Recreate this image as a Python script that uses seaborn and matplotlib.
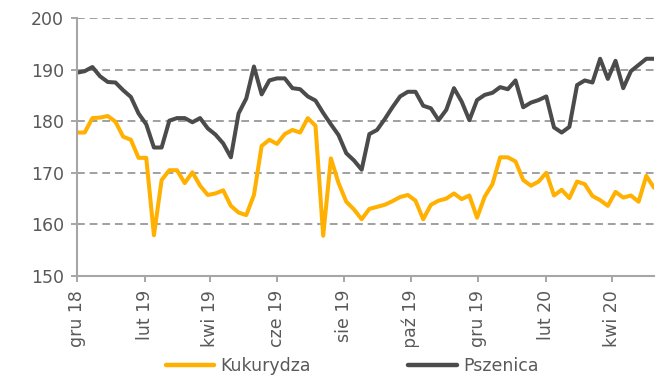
import numpy as np
import pandas as pd
import matplotlib
matplotlib.use("Agg")
import matplotlib.pyplot as plt
import matplotlib.dates as mdates
from matplotlib.ticker import FuncFormatter, MultipleLocator
from matplotlib.transforms import Bbox, TransformedBbox
import seaborn as sns

# Weekly prices, starting in early December 2018
start_date = "2018-12-01"

kukurydza = [
    177.8, 177.8, 180.6, 180.7, 181.0, 179.9, 177.0, 176.4, 172.9, 172.9,
    157.9, 168.6, 170.5, 170.5, 168.0, 170.1, 167.5, 165.7, 166.0, 166.6,
    163.6, 162.3, 161.8, 165.7, 175.2, 176.4, 175.6, 177.5, 178.3, 177.8,
    180.6, 179.1, 157.8, 172.8, 168.0, 164.4, 162.9, 161.0, 163.0, 163.4,
    163.8, 164.5, 165.3, 165.7, 164.6, 161.0, 163.8, 164.6, 165.0, 166.0,
    164.9, 165.6, 161.3, 165.4, 167.8, 173.0, 173.0, 172.2, 168.6, 167.5,
    168.3, 170.0, 165.6, 166.7, 165.1, 168.3, 167.8, 165.5, 164.7, 163.6,
    166.3, 165.2, 165.6, 164.4, 169.4, 167.1,
]

pszenica = [
    189.4, 189.7, 190.5, 188.7, 187.6, 187.5, 186.0, 184.7, 181.5, 179.4,
    174.9, 174.9, 180.1, 180.6, 180.6, 179.8, 180.6, 178.6, 177.4, 175.7,
    173.0, 181.5, 184.4, 190.6, 185.2, 187.9, 188.3, 188.3, 186.4, 186.2,
    184.8, 184.0, 181.6, 179.4, 177.3, 173.8, 172.4, 170.6, 177.5, 178.3,
    180.4, 182.7, 184.8, 185.7, 185.7, 183.0, 182.5, 180.2, 182.2, 186.4,
    183.8, 180.2, 184.1, 185.1, 185.5, 186.6, 186.2, 187.9, 182.7, 183.6,
    184.1, 184.8, 178.8, 177.8, 178.9, 187.0, 187.9, 187.5, 192.1, 188.2,
    191.7, 186.4, 189.7, 190.9, 192.1, 192.1,
]

series_names = ["Kukurydza", "Pszenica"]
series_colors = ["#FFB000", "#4B4B4B"]
month_abbr = ["sty", "lut", "mar", "kwi", "maj", "cze",
              "lip", "sie", "wrz", "paź", "lis", "gru"]
tick_months = [12, 2, 4, 6, 8, 10]
y_min, y_max, y_step = 150, 200, 10

dates = pd.date_range(start_date, periods=len(kukurydza), freq="7D")
df = pd.concat([
    pd.DataFrame({"data": dates, "cena": kukurydza, "seria": series_names[0]}),
    pd.DataFrame({"data": dates, "cena": pszenica, "seria": series_names[1]}),
], ignore_index=True)

sns.set_theme(style="white")
plt.rcParams["font.family"] = ["DejaVu Sans"]

text_color = "#595959"
axis_color = "#A6A6A6"
grid_color = "#A0A0A0"
fs = 12.5

W, H = 662, 376
fig, ax = plt.subplots(figsize=(W / 100, H / 100), dpi=100)
fig.subplots_adjust(left=77 / W, right=654 / W, top=1 - 18 / H, bottom=1 - 276 / H)

sns.lineplot(
    data=df, x="data", y="cena", hue="seria", hue_order=series_names,
    palette=dict(zip(series_names, series_colors)), linewidth=2.9,
    solid_joinstyle="round", ax=ax,
)

ax.set_xlim(dates[0], dates[-1])
ax.set_ylim(y_min, y_max)
ax.yaxis.set_major_locator(MultipleLocator(y_step))
ax.xaxis.set_major_locator(mdates.MonthLocator(bymonth=tick_months))


def month_label(x, pos):
    d = mdates.num2date(x)
    return f"{month_abbr[d.month - 1]} {d.year % 100:02d}"


ax.xaxis.set_major_formatter(FuncFormatter(month_label))
ax.set_xlabel("")
ax.set_ylabel("")

ax.set_axisbelow(True)
ax.yaxis.grid(True, color=grid_color, linestyle=(0, (4, 2.5)), linewidth=1.4)
ax.xaxis.grid(False)

for side in ("top", "right"):
    ax.spines[side].set_visible(False)
for side in ("left", "bottom"):
    ax.spines[side].set_color(axis_color)
    ax.spines[side].set_linewidth(1.5)

ax.tick_params(axis="y", which="major", left=True, length=4.5, width=1.4,
               color=axis_color, labelsize=fs, labelcolor=text_color, pad=5)
ax.tick_params(axis="x", which="major", bottom=True, length=4, width=1.4,
               color=axis_color, labelsize=fs, labelcolor=text_color,
               labelrotation=90, pad=6)

# Legend below the plot, without a frame
old = ax.get_legend()
handles = list(old.legend_handles)
labels = [t.get_text() for t in old.get_texts()]
old.remove()
for h in handles:
    h.set_linewidth(3.2)
ax.legend(handles, labels, loc="center", bbox_to_anchor=(352 / W, 10 / H),
          bbox_transform=fig.transFigure, ncol=2, frameon=False, fontsize=fs,
          handlelength=2.8, handletextpad=0.35, columnspacing=5.6,
          labelcolor=text_color)

# Month labels are cut off at the top of the legend band
fig.canvas.draw()
clip = TransformedBbox(Bbox([[0, 29 / H], [1, 1]]), fig.transFigure)
for lab in ax.get_xticklabels():
    lab.set_clip_on(True)
    lab.set_clip_box(clip)

fig.savefig("out.png", dpi=100)
